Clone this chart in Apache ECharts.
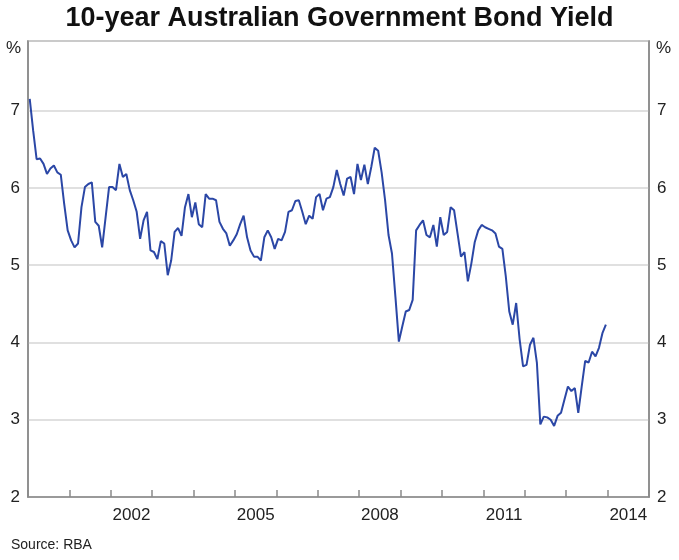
<!DOCTYPE html>
<html>
<head>
<meta charset="utf-8">
<script src="https://cdn.jsdelivr.net/npm/echarts@6/dist/echarts.min.js"></script>
<style>html,body{margin:0;padding:0;background:#fff}#main{width:679px;height:560px}</style>
</head>
<body>
<div id="main"></div>
<script>
// monthly 10-year yield, Jan 2000 .. Dec 2013
var startYear = 2000;
var yields = [
  7.15, 6.74, 6.37, 6.38, 6.31, 6.18, 6.25, 6.29, 6.20, 6.17, 5.79, 5.45,
  5.32, 5.23, 5.28, 5.75, 6.01, 6.05, 6.07, 5.56, 5.51, 5.23, 5.62, 6.01,
  6.01, 5.97, 6.31, 6.14, 6.18, 5.97, 5.84, 5.69, 5.34, 5.58, 5.69, 5.19,
  5.17, 5.08, 5.31, 5.28, 4.87, 5.06, 5.43, 5.48, 5.38, 5.75, 5.92, 5.62,
  5.81, 5.53, 5.49, 5.92, 5.86, 5.86, 5.84, 5.56, 5.47, 5.41, 5.25, 5.32,
  5.40, 5.53, 5.64, 5.36, 5.19, 5.11, 5.11, 5.06, 5.36, 5.45, 5.36, 5.21,
  5.34, 5.32, 5.43, 5.69, 5.71, 5.83, 5.84, 5.69, 5.53, 5.64, 5.60, 5.88,
  5.92, 5.71, 5.86, 5.88, 6.01, 6.23, 6.05, 5.90, 6.12, 6.14, 5.92, 6.31,
  6.10, 6.30, 6.05, 6.27, 6.52, 6.48, 6.20, 5.84, 5.39, 5.15, 4.59, 4.01,
  4.21, 4.40, 4.42, 4.55, 5.45, 5.52, 5.58, 5.39, 5.36, 5.52, 5.24, 5.62,
  5.39, 5.43, 5.75, 5.71, 5.41, 5.11, 5.17, 4.79, 5.02, 5.30, 5.45, 5.52,
  5.49, 5.47, 5.45, 5.41, 5.24, 5.21, 4.85, 4.40, 4.23, 4.51, 4.04, 3.69,
  3.71, 3.97, 4.06, 3.74, 2.94, 3.04, 3.03, 3.00, 2.92, 3.05, 3.09, 3.26,
  3.43, 3.37, 3.41, 3.09, 3.43, 3.76, 3.74, 3.88, 3.82, 3.93, 4.12, 4.23
];
var yearCats = ['2000','2001','2002','2003','2004','2005','2006','2007','2008','2009','2010','2011','2012','2013','2014'];
var shownYears = ['2002','2005','2008','2011','2014'];

var points = yields.map(function (v, i) {
  return [startYear + (i + 0.5) / 12, v];
});

var chart = echarts.init(document.getElementById('main'));
var txt = { color: '#222', fontFamily: 'Liberation Sans, Arial, sans-serif', fontSize: 17 };
var yAx = function (pos) {
  return {
    type: 'value', position: pos, min: 2, max: 7.9, interval: 1,
    name: '%', nameLocation: 'end', nameGap: -16,
    nameTextStyle: Object.assign({}, txt, { align: pos === 'left' ? 'right' : 'left',
      padding: pos === 'left' ? [0, 7, 0, 0] : [0, 0, 0, 7] }),
    axisLine: { show: true, lineStyle: { color: '#8a8a8a', width: 1.5 } },
    axisTick: { show: false },
    splitLine: { show: pos === 'left', lineStyle: { color: '#d6d6d6', width: 1.5 } },
    axisLabel: Object.assign({}, txt, { margin: 8, showMaxLabel: false,
      formatter: function (v) { return v % 1 === 0 ? v : ''; } })
  };
};

chart.setOption({
  animation: false,
  title: [
    { text: '10-year Australian Government Bond Yield', left: 'center', top: 0,
      textStyle: { fontFamily: 'Liberation Sans Narrow, Liberation Sans, Arial', fontWeight: 'bold', fontSize: 27, color: '#111' } },
    { text: 'Source: RBA', left: 6, bottom: 3,
      textStyle: { fontFamily: 'Liberation Sans, Arial', fontWeight: 'normal', fontSize: 14, color: '#222' } }
  ],
  grid: { left: 28, right: 30, top: 41, bottom: 63, show: true, borderColor: '#8a8a8a', borderWidth: 1.5 },
  xAxis: [
    { type: 'value', min: 2000, max: 2015, interval: 1,
      axisLine: { show: true, lineStyle: { color: '#8a8a8a', width: 1.5 } },
      axisTick: { show: true, inside: true, length: 7, lineStyle: { color: '#8a8a8a', width: 1.5 } },
      axisLabel: { show: false }, splitLine: { show: false } },
    { type: 'category', data: yearCats, position: 'bottom', boundaryGap: true,
      axisLine: { show: false }, axisTick: { show: false }, splitLine: { show: false },
      axisLabel: Object.assign({}, txt, { margin: 10, interval: 0,
        formatter: function (v) { return shownYears.indexOf(v) >= 0 ? v : ''; } }) }
  ],
  yAxis: [yAx('left'), yAx('right')],
  series: [{
    type: 'line', xAxisIndex: 0, yAxisIndex: 0, data: points, showSymbol: false,
    lineStyle: { color: '#2b47a6', width: 2 }
  }]
});
</script>
</body>
</html>
